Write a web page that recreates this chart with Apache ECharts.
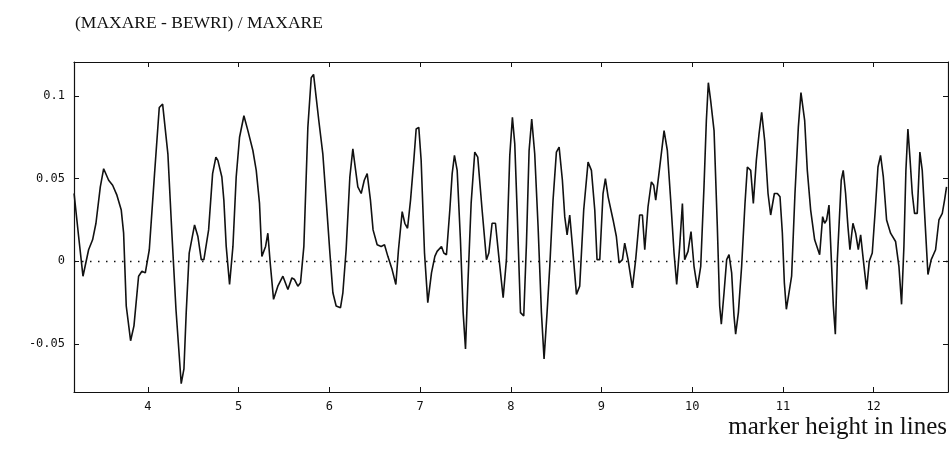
<!DOCTYPE html>
<html>
<head>
<meta charset="utf-8">
<script src="https://cdn.jsdelivr.net/npm/echarts@6/dist/echarts.min.js"></script>
<style>
  html, body { margin: 0; padding: 0; background: #fff; }
  #chart { width: 949px; height: 456px; }
</style>
</head>
<body>
<div id="chart"></div>
<script>
// marker height (lines) and relative difference
const markerHeight = [
  3.186, 3.236, 3.284, 3.346, 3.390, 3.427, 3.475, 3.512, 3.567, 3.611,
  3.658, 3.706, 3.732, 3.761, 3.809, 3.846, 3.897, 3.934, 3.971, 4.015,
  4.073, 4.125, 4.162, 4.220, 4.264, 4.309, 4.367, 4.397, 4.422, 4.455,
  4.514, 4.551, 4.588, 4.617, 4.669, 4.713, 4.749, 4.771, 4.815, 4.837,
  4.863, 4.900, 4.937, 4.973, 5.010, 5.058, 5.102, 5.157, 5.194, 5.230,
  5.256, 5.297, 5.322, 5.348, 5.385, 5.432, 5.488, 5.543, 5.587, 5.616,
  5.653, 5.682, 5.719, 5.763, 5.800, 5.826, 5.855, 5.884, 5.928, 5.965,
  6.006, 6.039, 6.075, 6.123, 6.149, 6.185, 6.226, 6.259, 6.285, 6.314,
  6.351, 6.385, 6.417, 6.453, 6.482, 6.527, 6.571, 6.608, 6.645, 6.692,
  6.733, 6.762, 6.803, 6.832, 6.862, 6.895, 6.931, 6.957, 6.986, 7.012,
  7.049, 7.085, 7.126, 7.163, 7.188, 7.236, 7.262, 7.291, 7.328, 7.354,
  7.379, 7.409, 7.445, 7.475, 7.501, 7.526, 7.563, 7.603, 7.636, 7.684,
  7.732, 7.758, 7.794, 7.831, 7.868, 7.916, 7.952, 7.989, 8.018, 8.044,
  8.070, 8.107, 8.143, 8.173, 8.202, 8.231, 8.264, 8.301, 8.338, 8.367,
  8.400, 8.430, 8.466, 8.503, 8.533, 8.569, 8.595, 8.621, 8.650, 8.680,
  8.724, 8.760, 8.804, 8.852, 8.889, 8.926, 8.951, 8.981, 9.017, 9.043,
  9.073, 9.128, 9.164, 9.194, 9.231, 9.256, 9.293, 9.341, 9.377, 9.421,
  9.451, 9.477, 9.513, 9.550, 9.576, 9.598, 9.642, 9.690, 9.726, 9.763,
  9.800, 9.829, 9.862, 9.892, 9.917, 9.954, 9.987, 10.020, 10.057, 10.094,
  10.130, 10.156, 10.178, 10.204, 10.241, 10.277, 10.303, 10.321, 10.351, 10.380,
  10.406, 10.435, 10.461, 10.479, 10.509, 10.545, 10.582, 10.608, 10.645, 10.674,
  10.707, 10.737, 10.766, 10.799, 10.836, 10.865, 10.906, 10.939, 10.968, 10.994,
  11.016, 11.038, 11.067, 11.096, 11.133, 11.170, 11.199, 11.221, 11.240, 11.269,
  11.306, 11.350, 11.405, 11.438, 11.460, 11.482, 11.508, 11.534, 11.556, 11.578,
  11.600, 11.629, 11.643, 11.665, 11.691, 11.717, 11.739, 11.772, 11.802, 11.831,
  11.857, 11.886, 11.923, 11.952, 11.985, 12.018, 12.048, 12.077, 12.107, 12.143,
  12.187, 12.242, 12.279, 12.308, 12.334, 12.356, 12.378, 12.400, 12.426, 12.451,
  12.481, 12.510, 12.536, 12.562, 12.599, 12.635, 12.683, 12.720, 12.757, 12.782,
  12.804
]
const relDiff = [
  0.041, 0.015, -0.009, 0.007, 0.013, 0.023, 0.045, 0.056, 0.049, 0.046,
  0.040, 0.031, 0.017, -0.027, -0.048, -0.039, -0.009, -0.006, -0.007, 0.007,
  0.053, 0.093, 0.095, 0.065, 0.017, -0.029, -0.074, -0.065, -0.031, 0.005,
  0.022, 0.015, 0.001, 0.001, 0.019, 0.053, 0.063, 0.061, 0.051, 0.037,
  0.009, -0.014, 0.009, 0.051, 0.075, 0.088, 0.079, 0.067, 0.055, 0.035,
  0.003, 0.009, 0.017, -0.001, -0.023, -0.015, -0.009, -0.017, -0.010, -0.011,
  -0.015, -0.013, 0.009, 0.081, 0.111, 0.113, 0.099, 0.085, 0.065, 0.037,
  0.005, -0.019, -0.027, -0.028, -0.019, 0.007, 0.051, 0.068, 0.057, 0.045,
  0.041, 0.049, 0.053, 0.037, 0.019, 0.010, 0.009, 0.010, 0.003, -0.005,
  -0.014, 0.007, 0.030, 0.023, 0.020, 0.037, 0.061, 0.080, 0.081, 0.061,
  0.005, -0.025, -0.007, 0.003, 0.006, 0.009, 0.005, 0.004, 0.031, 0.053,
  0.064, 0.055, 0.013, -0.031, -0.053, -0.015, 0.035, 0.066, 0.063, 0.031,
  0.001, 0.005, 0.023, 0.023, 0.003, -0.022, 0.001, 0.064, 0.087, 0.071,
  0.031, -0.031, -0.033, 0.011, 0.067, 0.086, 0.065, 0.021, -0.031, -0.059,
  -0.031, -0.003, 0.037, 0.066, 0.069, 0.049, 0.027, 0.016, 0.028, 0.009,
  -0.020, -0.015, 0.031, 0.060, 0.055, 0.031, 0.001, 0.001, 0.041, 0.050,
  0.039, 0.025, 0.015, -0.001, 0.001, 0.011, 0.001, -0.016, 0.001, 0.028,
  0.028, 0.007, 0.033, 0.048, 0.046, 0.037, 0.057, 0.079, 0.067, 0.037,
  0.005, -0.014, 0.009, 0.035, 0.001, 0.006, 0.018, -0.003, -0.016, -0.003,
  0.045, 0.085, 0.108, 0.097, 0.079, 0.021, -0.027, -0.038, -0.019, 0.001,
  0.004, -0.007, -0.033, -0.044, -0.031, -0.003, 0.035, 0.057, 0.055, 0.035,
  0.061, 0.077, 0.090, 0.073, 0.041, 0.028, 0.041, 0.041, 0.039, 0.017,
  -0.013, -0.029, -0.019, -0.009, 0.041, 0.081, 0.102, 0.103, 0.085, 0.055,
  0.031, 0.013, 0.004, 0.027, 0.023, 0.025, 0.034, 0.001, -0.027, -0.044,
  0.001, 0.033, 0.049, 0.055, 0.041, 0.021, 0.007, 0.023, 0.017, 0.007,
  0.016, 0.001, -0.017, 0.000, 0.005, 0.031, 0.057, 0.064, 0.051, 0.025,
  0.017, 0.012, -0.003, -0.026, 0.009, 0.055, 0.080, 0.063, 0.041, 0.029,
  0.029, 0.066, 0.055, 0.029, -0.008, 0.001, 0.007, 0.025, 0.029, 0.037,
  0.045
]
const xTicks = [4, 5, 6, 7, 8, 9, 10, 11, 12]
const yTicks = [-0.05, 0, 0.05, 0.1]

const chart = echarts.init(document.getElementById("chart"), null, { renderer: "canvas" })

const ink = "#111"
const tickFont = { fontFamily: "DejaVu Sans Mono", fontSize: 12, color: ink }

function frameAxis(pos, min, max, ticks, labels){
    return {
        type: "value",
        position: pos,
        min: min,
        max: max,
        axisLine: { show: true, onZero: false, lineStyle: { color: ink, width: 1.2 } },
        axisTick: { show: true, inside: true, length: 5, customValues: ticks, lineStyle: { color: ink, width: 1 } },
        axisLabel: Object.assign({ show: labels, customValues: ticks, margin: 9 }, tickFont),
        splitLine: { show: false }
    }
}

let option = {
    animation: false,
    backgroundColor: "#fff",
    title: {
        text: "(MAXARE - BEWRI) / MAXARE",
        left: 70,
        top: 9,
        textStyle: { fontFamily: "Liberation Serif", fontSize: 17.5, fontWeight: "normal", color: ink }
    },
    grid: { left: 74, right: 1, top: 62, bottom: 64 },
    xAxis: [
        frameAxis("bottom", 3.185, 12.82, xTicks, true),
        frameAxis("top", 3.185, 12.82, xTicks, false)
    ],
    yAxis: [
        frameAxis("left", -0.079, 0.1205, yTicks, true),
        frameAxis("right", -0.079, 0.1205, yTicks, false)
    ],
    graphic: [
        {
            type: "text",
            right: 2,
            top: 415,
            style: { text: "marker height in lines", font: '25px "Liberation Serif"', fill: ink }
        }
    ],
    series: [
        {
            type: "line",
            xAxisIndex: 0,
            yAxisIndex: 0,
            showSymbol: false,
            data: markerHeight.map((x, i) => [x, relDiff[i]]),
            lineStyle: { color: ink, width: 1.6 },
            markLine: {
                silent: true,
                symbol: ["none", "none"],
                label: { show: false },
                lineStyle: { color: ink, width: 1.3, type: [1.5, 6.5] },
                data: [{ yAxis: 0 }]
            }
        }
    ]
}
chart.setOption(option)
</script>
</body>
</html>
